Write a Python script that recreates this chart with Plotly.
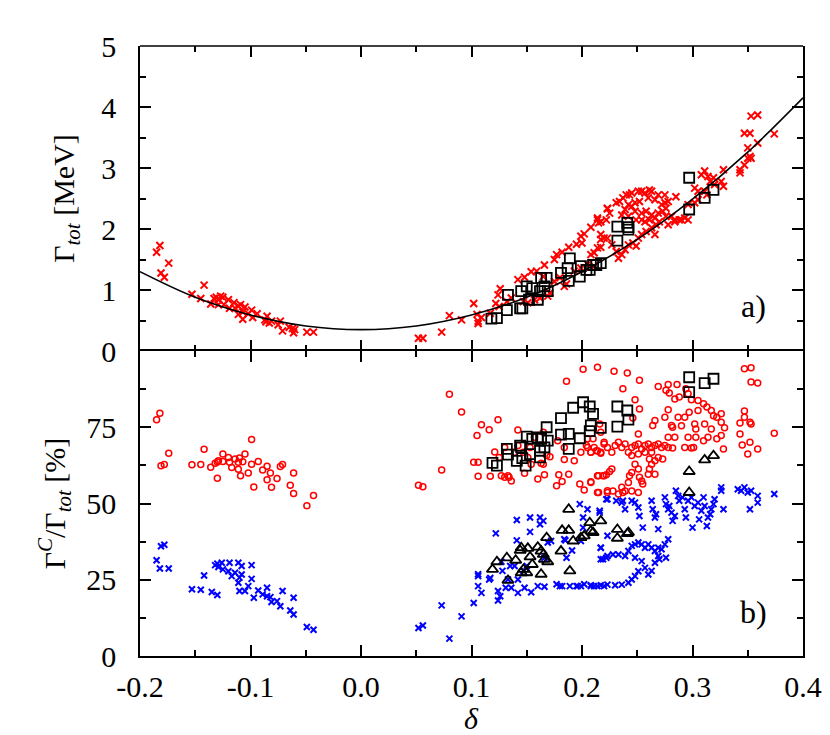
import plotly.graph_objects as go

# ---------------- data ----------------
curve_x = [-0.2, -0.15, -0.1, -0.05, 0.0, 0.05, 0.1, 0.15, 0.2, 0.25, 0.3, 0.35, 0.4]
curve_y = [1.30, 0.88, 0.59, 0.41, 0.35, 0.41, 0.59, 0.88, 1.30, 1.83, 2.49, 3.26, 4.15]

top_red_x = [
    -0.185, -0.182, -0.181, -0.178, -0.174, -0.153, -0.145, -0.142, -0.136, -0.133, -0.131, -0.129, -0.127,
    -0.125, -0.129, -0.124, -0.120, -0.119, -0.115, -0.114, -0.111, -0.109, -0.105, -0.111, -0.107, -0.107,
    -0.102, -0.099, -0.098, -0.094, -0.087, -0.085, -0.086, -0.083, -0.081, -0.075, -0.073, -0.071, -0.065,
    -0.062, -0.061, -0.060, -0.049, -0.043,
    0.052, 0.056, 0.073, 0.080, 0.091, 0.102, 0.105, 0.106, 0.106, 0.109, 0.117, 0.122, 0.124, 0.126, 0.125,
    0.132, 0.136, 0.142, 0.148, 0.154, 0.159, 0.166, 0.165, 0.169, 0.171, 0.162, 0.147, 0.151, 0.157, 0.175,
    0.177, 0.182, 0.184, 0.186, 0.188, 0.195, 0.199, 0.202, 0.200, 0.208, 0.214, 0.215, 0.217, 0.217, 0.220,
    0.222, 0.223, 0.193, 0.199, 0.205, 0.211, 0.175, 0.180, 0.208, 0.211, 0.214,
    0.214, 0.217, 0.223, 0.225, 0.231, 0.234, 0.237, 0.240, 0.243, 0.245, 0.251, 0.254, 0.257, 0.261, 0.263,
    0.269, 0.275, 0.278, 0.285, 0.275, 0.272, 0.266, 0.260, 0.252, 0.248, 0.245, 0.242, 0.239, 0.236, 0.242,
    0.248, 0.254, 0.258, 0.263, 0.269, 0.273, 0.276, 0.281, 0.284, 0.288, 0.293, 0.296, 0.266, 0.261, 0.257,
    0.254, 0.249,
    0.217, 0.223, 0.227, 0.231, 0.233, 0.236, 0.239, 0.242, 0.246, 0.249, 0.251, 0.254, 0.258, 0.263, 0.266,
    0.267, 0.270, 0.276, 0.278, 0.284, 0.290, 0.296, 0.302, 0.305, 0.308, 0.311, 0.314, 0.316, 0.319, 0.320,
    0.326, 0.328, 0.328, 0.311, 0.313, 0.305, 0.302,
    0.343, 0.343, 0.347, 0.350, 0.352, 0.353, 0.350, 0.347, 0.352, 0.353, 0.359, 0.359, 0.374,
]
top_red_y = [
    1.62, 1.73, 1.28, 1.21, 1.44, 0.93, 0.86, 1.08, 0.77, 0.86, 0.88, 0.84, 0.90,
    0.88, 0.76, 0.76, 0.84, 0.70, 0.79, 0.70, 0.74, 0.76, 0.72, 0.60, 0.52, 0.64,
    0.61, 0.67, 0.55, 0.61, 0.51, 0.57, 0.48, 0.46, 0.49, 0.43, 0.49, 0.33, 0.39,
    0.37, 0.30, 0.35, 0.31, 0.31,
    0.21, 0.21, 0.31, 0.58, 0.51, 0.78, 0.60, 0.49, 0.45, 0.55, 0.62, 0.78, 0.92, 1.02, 0.73,
    0.81, 0.87, 1.17, 1.21, 1.30, 1.31, 1.41, 1.22, 0.90, 0.95, 0.87, 0.81, 0.79, 0.84, 1.50,
    1.58, 1.62, 1.06, 1.10, 1.70, 1.75, 1.88, 1.92, 1.77, 2.03, 2.15, 2.10, 1.83, 1.70, 1.85,
    2.15, 2.33, 1.31, 1.36, 1.42, 1.39, 1.14, 1.20, 1.58, 1.61, 1.69,
    2.18, 2.12, 2.34, 2.26, 2.43, 2.45, 2.51, 2.56, 2.56, 2.59, 2.62, 2.62, 2.59, 2.64, 2.62,
    2.56, 2.56, 2.45, 2.53, 2.43, 2.40, 2.48, 2.51, 2.45, 2.43, 2.37, 2.40, 2.32, 2.23, 2.21,
    2.29, 2.26, 2.29, 2.23, 2.26, 2.29, 2.34, 2.21, 2.15, 2.15, 2.18, 2.15, 2.18, 2.15, 2.12,
    2.15, 2.15,
    1.91, 1.85, 1.74, 1.63, 1.52, 1.58, 1.66, 1.74, 1.77, 1.72, 1.85, 1.91, 1.96, 2.02, 1.91,
    2.07, 2.12, 2.21, 2.07, 2.12, 2.15, 2.40, 2.43, 2.48, 2.89, 2.95, 2.86, 2.78, 2.84, 2.73,
    2.78, 2.70, 2.97, 2.62, 2.56, 2.62, 2.67,
    2.97, 2.92, 3.05, 3.16, 3.19, 3.16, 3.33, 3.57, 3.57, 3.85, 3.87, 3.41, 3.56,
]

top_sq_x = [0.118, 0.123, 0.132, 0.133, 0.144, 0.146, 0.145, 0.150, 0.155, 0.152, 0.160, 0.162, 0.163,
            0.166, 0.168, 0.169, 0.181, 0.188, 0.189, 0.187, 0.198, 0.199, 0.204, 0.207, 0.210, 0.213,
            0.217, 0.232, 0.232, 0.241, 0.242, 0.242, 0.297, 0.297, 0.311, 0.319]
top_sq_y = [0.53, 0.54, 0.67, 0.92, 0.70, 0.70, 0.98, 1.06, 1.03, 0.84, 0.84, 0.98, 1.20,
            1.06, 1.20, 0.98, 1.28, 1.15, 1.52, 1.36, 1.22, 1.39, 1.33, 1.33, 1.41, 1.41,
            1.44, 2.04, 1.81, 2.10, 2.03, 1.99, 2.84, 2.32, 2.51, 2.64]

bot_circ_x = [
    -0.185, -0.182, -0.181, -0.178, -0.174, -0.153, -0.145, -0.142, -0.136, -0.132, -0.130, -0.129, -0.125,
    -0.125, -0.120, -0.119, -0.117, -0.114, -0.111, -0.111, -0.110, -0.107, -0.105, -0.109, -0.130, -0.102,
    -0.099, -0.099, -0.097, -0.093, -0.089, -0.085, -0.085, -0.082, -0.081, -0.076, -0.073, -0.071, -0.064,
    -0.061, -0.061, -0.049, -0.043,
    0.052, 0.056, 0.073, 0.080, 0.091, 0.102, 0.106, 0.106, 0.105, 0.109, 0.116, 0.117, 0.121, 0.124, 0.127,
    0.130, 0.133, 0.136, 0.134, 0.142, 0.148, 0.160, 0.166, 0.165, 0.171, 0.177, 0.179, 0.182, 0.184, 0.186,
    0.188, 0.178, 0.184, 0.193, 0.198, 0.199, 0.202, 0.201, 0.208, 0.208, 0.214, 0.215, 0.215, 0.220, 0.223,
    0.204, 0.205, 0.210, 0.213, 0.217, 0.216, 0.217, 0.220,
    0.142, 0.147, 0.151, 0.154, 0.163, 0.168, 0.165, 0.157, 0.153, 0.139, 0.125, 0.130,
    0.229, 0.241, 0.252, 0.237, 0.269, 0.278, 0.286, 0.276, 0.279, 0.284, 0.288, 0.294, 0.296, 0.299,
    0.305, 0.310, 0.313, 0.317, 0.319, 0.322, 0.326, 0.326, 0.329, 0.311, 0.317, 0.302, 0.303, 0.293,
    0.290, 0.287, 0.297, 0.305, 0.282, 0.278, 0.275, 0.266, 0.264, 0.251, 0.248, 0.252, 0.246, 0.281,
    0.284, 0.278, 0.296, 0.303, 0.310, 0.314, 0.322, 0.326, 0.293, 0.299, 0.301, 0.328, 0.347, 0.353,
    0.353, 0.359, 0.347, 0.347, 0.352, 0.353, 0.343, 0.343, 0.352, 0.345, 0.359, 0.350, 0.374,
    0.205, 0.208, 0.211, 0.214, 0.217, 0.220, 0.223, 0.227, 0.230, 0.233, 0.236, 0.239, 0.242, 0.245,
    0.248, 0.251, 0.254, 0.257, 0.260, 0.263, 0.266, 0.269, 0.272, 0.275, 0.278, 0.282, 0.245, 0.251,
    0.257, 0.263, 0.269, 0.273, 0.261,
    0.208, 0.214, 0.219, 0.222, 0.225, 0.227, 0.214, 0.223, 0.228, 0.233, 0.236, 0.239, 0.242, 0.243,
    0.245, 0.248, 0.251, 0.252, 0.254, 0.255, 0.260, 0.261, 0.263, 0.266, 0.266, 0.251, 0.245, 0.237,
]
bot_circ_y = [
    77.5, 79.6, 62.4, 62.8, 66.5, 62.7, 62.8, 67.8, 61.9, 63.2, 63.6, 64.0, 66.2,
    63.8, 65.1, 63.5, 61.8, 64.6, 63.5, 61.2, 64.9, 63.7, 66.2, 59.1, 58.3, 60.0,
    71.0, 62.9, 55.4, 63.8, 61.0, 62.2, 57.8, 60.0, 55.3, 58.2, 62.1, 62.8, 56.0,
    60.0, 53.3, 49.3, 52.6,
    56.0, 55.5, 61.0, 85.8, 80.0, 63.5, 63.5, 58.9, 72.3, 75.8, 74.2, 58.9, 66.9, 77.5, 59.1,
    58.6, 59.1, 57.4, 58.6, 74.1, 59.9, 58.0, 59.4, 62.9, 65.3, 55.8, 59.4, 57.2, 64.4, 90.1,
    59.6, 70.6, 68.4, 64.0, 56.4, 66.8, 54.4, 94.0, 57.1, 66.8, 94.7, 59.1, 53.6, 59.1, 54.2,
    69.0, 71.2, 71.2, 67.3, 66.5, 76.1, 73.4, 70.1,
    69.0, 66.8, 65.1, 62.9, 63.2, 65.7, 73.4, 71.7, 68.4, 66.8, 65.1, 68.4,
    93.4, 92.8, 90.4, 87.6, 88.4, 89.0, 89.0, 87.1, 86.2, 84.3, 84.9, 87.6, 86.0, 84.0,
    83.8, 82.7, 81.6, 80.5, 78.8, 78.3, 79.4, 76.6, 74.8, 76.1, 74.4, 76.1, 74.4, 78.3,
    75.5, 78.3, 79.9, 80.5, 75.0, 80.7, 78.3, 77.2, 75.6, 72.8, 84.0, 81.0, 78.0, 75.6,
    71.7, 71.7, 71.7, 71.7, 70.6, 71.7, 71.2, 72.3, 68.4, 68.2, 68.4, 67.9, 94.2, 94.5,
    89.8, 89.5, 80.3, 78.3, 76.6, 76.1, 76.4, 72.8, 70.1, 69.2, 67.9, 66.2, 73.0,
    68.4, 66.8, 68.4, 67.3, 66.8, 69.5, 68.4, 66.8, 69.0, 70.1, 68.4, 69.5, 66.8, 68.4,
    69.0, 69.5, 67.9, 69.0, 69.5, 68.4, 69.0, 69.5, 68.4, 69.0, 68.4, 68.2, 65.7, 66.2,
    66.8, 66.8, 65.1, 64.6, 64.6,
    56.9, 59.1, 59.1, 59.4, 60.5, 61.3, 53.6, 53.6, 54.1, 53.1, 55.3, 54.1, 56.9, 59.1,
    60.2, 62.9, 61.3, 58.6, 57.4, 56.4, 59.6, 61.3, 62.9, 64.0, 59.6, 53.6, 54.1, 53.6,
]

bot_blue_x = [
    -0.185, -0.182, -0.181, -0.178, -0.174, -0.153, -0.145, -0.142, -0.135, -0.130, -0.132, -0.130, -0.129,
    -0.126, -0.125, -0.120, -0.119, -0.117, -0.114, -0.111, -0.111, -0.110, -0.108, -0.108, -0.105, -0.110,
    -0.102, -0.099, -0.099, -0.097, -0.093, -0.089, -0.085, -0.085, -0.082, -0.081, -0.076, -0.073, -0.071,
    -0.064, -0.061, -0.061, -0.049, -0.043,
    0.052, 0.056, 0.073, 0.080, 0.091, 0.102, 0.106, 0.106, 0.106, 0.109, 0.116, 0.117, 0.122, 0.124, 0.124,
    0.126, 0.127, 0.128, 0.131, 0.133, 0.136, 0.135, 0.139, 0.142, 0.141, 0.142, 0.141, 0.147, 0.148, 0.150,
    0.153, 0.153, 0.154, 0.160, 0.162, 0.162, 0.165, 0.166, 0.166, 0.169, 0.172, 0.177, 0.180, 0.182, 0.184,
    0.185, 0.186, 0.189, 0.191, 0.195, 0.196, 0.198, 0.199, 0.201, 0.202, 0.208, 0.201, 0.199, 0.211, 0.214,
    0.216, 0.217, 0.217, 0.220, 0.222, 0.222, 0.205, 0.216, 0.223,
    0.223, 0.231, 0.236, 0.239, 0.237, 0.245, 0.248, 0.251, 0.252, 0.255, 0.263, 0.264, 0.266, 0.267, 0.269,
    0.275, 0.276, 0.278, 0.279, 0.281, 0.282, 0.284, 0.285, 0.287, 0.288, 0.291, 0.293, 0.294, 0.296, 0.299,
    0.300, 0.302, 0.305, 0.306, 0.308, 0.310, 0.311, 0.313, 0.314, 0.316, 0.317, 0.319, 0.320, 0.326, 0.326,
    0.328, 0.341, 0.344, 0.347, 0.350, 0.353, 0.352, 0.359, 0.359, 0.374,
    0.217, 0.219, 0.223, 0.228, 0.233, 0.239, 0.242, 0.245, 0.248, 0.251, 0.254, 0.257, 0.260, 0.263, 0.266,
    0.269, 0.272, 0.275, 0.278, 0.276, 0.270, 0.266, 0.263, 0.260, 0.257, 0.251, 0.248, 0.245, 0.242, 0.236,
    0.230, 0.223, 0.217, 0.208, 0.254, 0.248, 0.269,
]
bot_blue_y = [
    31.4, 28.7, 36.0, 36.5, 28.7, 21.9, 21.7, 26.4, 21.0, 20.0, 29.8, 30.3, 29.2,
    30.6, 28.4, 27.8, 30.6, 26.2, 27.3, 30.6, 24.0, 25.7, 29.5, 26.7, 21.3, 21.3,
    22.9, 29.8, 25.3, 19.1, 21.5, 20.2, 22.4, 19.6, 19.3, 17.7, 18.0, 16.3, 21.3,
    14.9, 19.1, 13.6, 9.5, 8.6,
    9.2, 10.0, 16.6, 5.7, 13.0, 17.4, 26.8, 26.2, 22.9, 20.7, 25.1, 25.6, 40.2, 21.3, 18.2,
    19.6, 30.9, 27.9, 22.4, 25.1, 22.4, 29.5, 29.5, 20.7, 37.9, 25.1, 44.6, 27.9, 22.4, 29.5,
    45.4, 40.7, 20.9, 22.9, 45.4, 43.2, 44.3, 22.7, 32.2, 37.2, 37.7, 23.5, 22.9, 22.9, 38.3,
    37.9, 32.2, 22.9, 34.6, 22.9, 22.9, 49.8, 22.9, 45.4, 23.5, 22.9, 42.1, 37.7, 22.9, 22.9,
    47.6, 35.5, 31.7, 22.9, 51.4, 32.2, 48.1, 47.0, 39.4,
    51.4, 50.9, 50.3, 48.1, 50.9, 50.9, 50.3, 48.7, 45.9, 42.1, 50.9, 48.1, 45.4, 46.5, 41.6,
    52.0, 49.8, 48.1, 49.2, 47.0, 44.3, 45.9, 54.2, 52.5, 50.9, 52.0, 48.1, 45.4, 50.9, 52.0,
    42.1, 49.2, 50.3, 44.8, 47.6, 52.0, 49.2, 42.6, 45.4, 46.5, 48.1, 49.8, 51.4, 55.3, 54.2,
    48.1, 54.7, 54.2, 55.3, 53.6, 54.2, 48.1, 52.5, 50.3, 53.1,
    35.5, 31.7, 32.8, 33.3, 33.3, 32.8, 34.4, 36.1, 36.6, 37.2, 36.6, 35.5, 36.6, 35.5, 34.4,
    35.5, 35.0, 36.6, 38.3, 32.2, 31.7, 30.6, 27.9, 26.7, 28.9, 27.8, 26.2, 25.1, 24.0, 23.4,
    23.2, 23.4, 23.2, 23.2, 31.1, 32.2, 32.8,
]

bot_sq_x = [0.119, 0.123, 0.132, 0.133, 0.141, 0.144, 0.145, 0.146, 0.149, 0.150, 0.153, 0.155, 0.160,
            0.162, 0.162, 0.163, 0.166, 0.168, 0.169, 0.181, 0.181, 0.188, 0.188, 0.192, 0.198, 0.201,
            0.207, 0.210, 0.208, 0.207, 0.217, 0.232, 0.232, 0.241, 0.242, 0.297, 0.297, 0.311, 0.319]
bot_sq_y = [63.3, 62.4, 67.9, 66.0, 64.0, 69.0, 68.4, 64.9, 62.4, 71.9, 66.2, 71.2, 71.7,
            67.3, 65.1, 71.2, 68.4, 75.0, 70.6, 78.0, 72.6, 72.8, 67.9, 81.4, 71.4, 83.2,
            81.8, 79.4, 75.6, 73.7, 74.8, 81.8, 75.2, 80.5, 77.5, 91.4, 86.5, 89.5, 90.9]

bot_tri_x = [0.119, 0.123, 0.132, 0.133, 0.140, 0.144, 0.145, 0.145, 0.147, 0.150, 0.151, 0.153, 0.155,
             0.160, 0.163, 0.163, 0.165, 0.166, 0.168, 0.169, 0.181, 0.182, 0.188, 0.188, 0.189, 0.192,
             0.199, 0.202, 0.207, 0.208, 0.210, 0.217, 0.232, 0.232, 0.241, 0.242, 0.297, 0.297, 0.311, 0.319]
bot_tri_y = [28.4, 30.9, 32.2, 24.8, 31.4, 34.6, 35.5, 27.3, 28.4, 27.3, 35.3, 32.5, 30.0,
             35.7, 26.8, 34.4, 33.3, 31.7, 38.8, 30.9, 34.4, 41.2, 48.1, 41.2, 27.9, 37.7,
             38.8, 39.4, 43.7, 41.0, 40.5, 44.3, 41.5, 38.6, 40.1, 40.5, 60.5, 53.6, 64.3, 65.7]

x_tick_vals = [-0.2, -0.1, 0.0, 0.1, 0.2, 0.3, 0.4]
x_tick_text = ["-0.2", "-0.1", "0.0", "0.1", "0.2", "0.3", "0.4"]
top_tick_vals = [0, 1, 2, 3, 4, 5]
bot_tick_vals = [0, 25, 50, 75]

# ---------------- figure ----------------
FONT = "Liberation Serif, Times New Roman, serif"
RED = "#ff0000"
BLUE = "#0000ff"

fig = go.Figure()

fig.add_trace(go.Scatter(x=top_red_x, y=top_red_y, mode="markers", xaxis="x2", yaxis="y2",
                         marker=dict(symbol="x-thin", size=7, line=dict(width=2, color=RED)),
                         showlegend=False))
fig.add_trace(go.Scatter(x=curve_x, y=curve_y, mode="lines", xaxis="x2", yaxis="y2",
                         line=dict(color="black", width=1.6, shape="spline"), showlegend=False))
fig.add_trace(go.Scatter(x=top_sq_x, y=top_sq_y, mode="markers", xaxis="x2", yaxis="y2",
                         marker=dict(symbol="square-open", size=10, color="black", line=dict(width=1.8)),
                         showlegend=False))

fig.add_trace(go.Scatter(x=bot_circ_x, y=bot_circ_y, mode="markers", xaxis="x", yaxis="y",
                         marker=dict(symbol="circle-open", size=6, color=RED, line=dict(width=1.5)),
                         showlegend=False))
fig.add_trace(go.Scatter(x=bot_blue_x, y=bot_blue_y, mode="markers", xaxis="x", yaxis="y",
                         marker=dict(symbol="x-thin", size=6, line=dict(width=2, color=BLUE)),
                         showlegend=False))
fig.add_trace(go.Scatter(x=bot_sq_x, y=bot_sq_y, mode="markers", xaxis="x", yaxis="y",
                         marker=dict(symbol="square-open", size=10, color="black", line=dict(width=1.8)),
                         showlegend=False))
fig.add_trace(go.Scatter(x=bot_tri_x, y=bot_tri_y, mode="markers", xaxis="x", yaxis="y",
                         marker=dict(symbol="triangle-up-open", size=10, color="black", line=dict(width=1.8)),
                         showlegend=False))

minor_x = dict(ticks="inside", ticklen=6, tickwidth=1.5, tickcolor="black", dtick=0.05, tick0=-0.2)
common_x = dict(range=[-0.2, 0.4], tickvals=x_tick_vals, ticktext=x_tick_text, ticks="inside",
                ticklen=11, tickwidth=1.5, tickcolor="black", minor=minor_x,
                showgrid=False, zeroline=False, automargin=False)
common_y = dict(ticks="inside", ticklen=11, tickwidth=1.5, tickcolor="black",
                showline=True, linewidth=1.5, linecolor="black", mirror="ticks",
                showgrid=False, zeroline=False, ticklabelstandoff=16, automargin=False,
                tickfont=dict(size=30))

fig.update_layout(
    width=830, height=735,
    margin=dict(l=132, r=35, t=38, b=87),
    plot_bgcolor="white", paper_bgcolor="white",
    font=dict(family=FONT, size=28, color="black"),
    xaxis=dict(domain=[0, 1], anchor="y", ticklabelstandoff=3, tickfont=dict(size=30),
               showline=True, linewidth=1.5, linecolor="black", mirror="ticks", **common_x),
    xaxis2=dict(domain=[0, 1], anchor="y2", matches="x", showticklabels=False,
                showline=False, mirror="ticks", **common_x),
    yaxis=dict(domain=[0, 0.5], anchor="x", range=[0, 100], tickvals=bot_tick_vals,
               minor=dict(ticks="inside", ticklen=6, tickwidth=1.5, tickcolor="black", dtick=12.5, tick0=0),
               title=dict(text="Γ<sup><i>C</i></sup>/Γ<sub><i>tot</i></sub> [%]", standoff=12, font=dict(size=30)),
               **common_y),
    yaxis2=dict(domain=[0.5, 1], anchor="x2", range=[0, 5], tickvals=top_tick_vals,
                minor=dict(ticks="inside", ticklen=6, tickwidth=1.5, tickcolor="black", dtick=0.5, tick0=0),
                title=dict(text="Γ<sub><i>tot</i></sub> [MeV]", standoff=18, font=dict(size=30)),
                **common_y),
    shapes=[dict(type="line", xref="paper", yref="paper", x0=0, x1=1, y0=1, y1=1,
                 line=dict(color="black", width=1.5))],
    annotations=[
        dict(text="<i>δ</i>", x=0.5, y=-0.102, xref="paper", yref="paper", showarrow=False,
             font=dict(size=30, family=FONT), xanchor="center", yanchor="middle"),
        dict(text="a)", x=0.355, y=0.74, xref="x2", yref="y2", showarrow=False,
             font=dict(size=32, family=FONT), xanchor="center", yanchor="middle"),
        dict(text="b)", x=0.355, y=14.5, xref="x", yref="y", showarrow=False,
             font=dict(size=32, family=FONT), xanchor="center", yanchor="middle"),
    ],
)

fig.write_html("out.html")
